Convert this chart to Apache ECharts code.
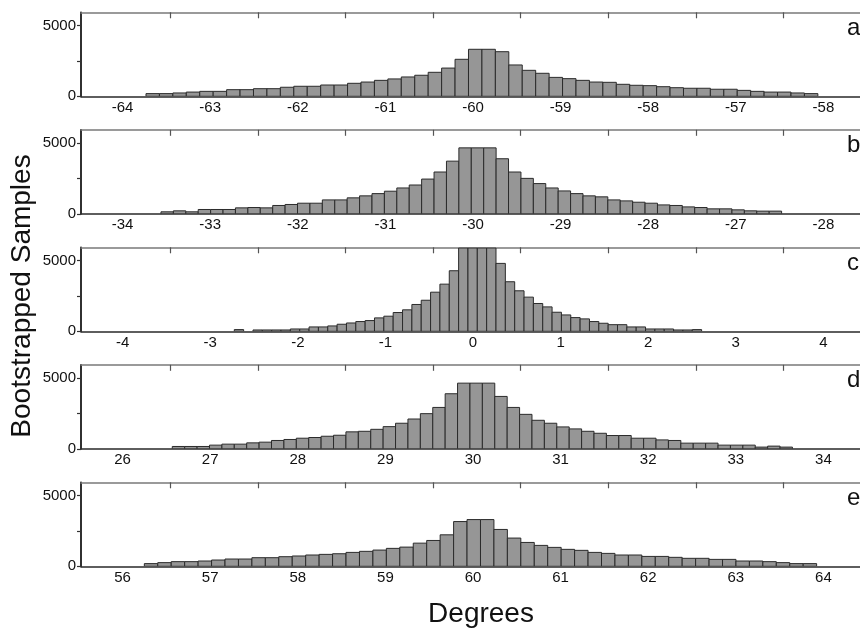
<!DOCTYPE html>
<html>
<head>
<meta charset="utf-8">
<script src="https://cdn.jsdelivr.net/npm/echarts@6/dist/echarts.min.js"></script>
<style>html,body{margin:0;padding:0;background:#fff;}#c{width:860px;height:629px;}</style>
</head>
<body>
<div id="c"></div>
<script>
// ---- data ----
const panelLetters = ['a', 'b', 'c', 'd', 'e'];
const centers = [-60, -30, 0, 30, 60];

const labelsA = ['-64', '-63', '-62', '-61', '-60', '-59', '-58', '-57', '-58'];
const labelsB = ['-34', '-33', '-32', '-31', '-30', '-29', '-28', '-27', '-28'];
const labelsC = ['-4', '-3', '-2', '-1', '0', '1', '2', '3', '4'];
const labelsD = ['26', '27', '28', '29', '30', '31', '32', '33', '34'];
const labelsE = ['56', '57', '58', '59', '60', '61', '62', '63', '64'];

const binStart = [-63.733, -33.562, -2.725, 26.567, 56.248];
const binWidth = [0.1534, 0.1417, 0.1067, 0.1416, 0.1535];

const countsA = [190,190,236,300,350,350,470,470,540,540,640,710,710,800,800,920,1010,1130,1230,1370,1490,1700,2000,2620,3330,3330,3160,2220,1840,1630,1340,1250,1130,1010,990,850,780,755,680,610,570,570,500,500,420,350,300,300,236,190];
const countsB = [140,210,140,305,305,305,420,445,420,590,660,750,750,985,985,1130,1270,1430,1600,1830,2040,2460,2960,3730,4670,4670,4670,3900,2960,2510,2140,1830,1620,1430,1270,1200,985,915,820,750,630,590,490,445,350,350,280,210,190,190];
const countsC = [120,0,95,95,95,95,165,165,310,310,380,500,590,690,760,950,1070,1330,1520,1900,2200,2770,3340,4290,5900,5900,5900,5900,4810,3510,2870,2420,1970,1730,1350,1160,970,880,690,570,470,470,310,310,165,165,165,95,95,120];
const countsD = [165,165,165,260,330,330,420,470,590,660,750,800,890,960,1200,1240,1380,1570,1810,2110,2490,2930,3900,4650,4650,4650,3710,2930,2440,2020,1810,1550,1410,1240,1100,940,940,750,750,630,590,400,400,400,260,260,260,120,190,120];
const countsE = [190,260,330,330,375,445,515,515,610,610,680,730,800,845,890,985,1060,1150,1270,1360,1640,1830,2230,3170,3310,3310,2610,2000,1690,1480,1340,1200,1130,985,915,800,800,700,700,635,565,565,490,490,375,375,330,260,190,190];

const yLabelValues = [0, 5000];
const yTickValues = [0, 2500, 5000];

// ---- build ----
const allLabels = [labelsA, labelsB, labelsC, labelsD, labelsE];
const allCounts = [countsA, countsB, countsC, countsD, countsE];
const FONT = 'Liberation Sans, Arial, Helvetica, sans-serif';

const grids = [], xAxes = [], yAxes = [], series = [], graphics = [];
for (let i = 0; i < 5; i++) {
  const c = centers[i];
  const top = 12.3 + 117.5 * i;
  grids.push({ left: 81, top: top, right: 0, height: 84 });
  const xmin = c - 4.475, xmax = c + 4.418;
  const labs = allLabels[i];
  // bottom axis: labels
  xAxes.push({
    type: 'value', gridIndex: i, position: 'bottom', min: xmin, max: xmax,
    axisLine: { show: true, onZero: false, lineStyle: { color: '#2a2a2a', width: 1.5 } },
    axisTick: { show: false },
    splitLine: { show: false },
    axisLabel: {
      show: true, margin: 4, color: '#111', fontSize: 15, fontFamily: FONT,
      customValues: labs.map((_, k) => c - 4 + k),
      formatter: (v) => labs[Math.round(v - c + 4)]
    }
  });
  // top axis: ticks only
  xAxes.push({
    type: 'value', gridIndex: i, position: 'top', min: xmin, max: xmax,
    axisLine: { show: true, onZero: false, lineStyle: { color: '#7a7a7a', width: 1.5 } },
    axisTick: { show: true, inside: true, length: 6, lineStyle: { color: '#555', width: 1.2 },
      customValues: [0,1,2,3,4,5,6,7].map(k => c - 3.457 + k) },
    axisLabel: { show: false },
    splitLine: { show: false }
  });
  yAxes.push({
    type: 'value', gridIndex: i, min: 0, max: 5950,
    axisLine: { show: true, onZero: false, lineStyle: { color: '#1a1a1a', width: 1.8 } },
    axisTick: { show: true, inside: false, length: 4, lineStyle: { color: '#333', width: 1.2 }, customValues: yTickValues },
    axisLabel: { show: true, margin: 5, color: '#111', fontSize: 15, fontFamily: FONT, customValues: yLabelValues,
      formatter: (v) => String(v) },
    splitLine: { show: false }
  });
  const w = binWidth[i];
  series.push({
    type: 'custom', xAxisIndex: 2 * i, yAxisIndex: i, clip: true,
    data: allCounts[i].map((v, k) => [binStart[i] + k * w, v]),
    renderItem: function (params, api) {
      const x0 = api.value(0), v = api.value(1);
      if (!v) return null;
      const p0 = api.coord([x0, v]);
      const p1 = api.coord([x0 + w, 0]);
      return {
        type: 'rect',
        shape: { x: p0[0], y: p0[1], width: p1[0] - p0[0], height: p1[1] - p0[1] },
        style: { fill: '#969696', stroke: '#2b2b2b', lineWidth: 1 }
      };
    }
  });
  graphics.push({
    type: 'text', left: 847, top: top + 4,
    style: { text: panelLetters[i], fontSize: 24, fontFamily: FONT, fill: '#111' }
  });
}
graphics.push({
  type: 'text', x: 481, y: 614,
  style: { text: 'Degrees', fontSize: 28, fontFamily: FONT, fill: '#111', align: 'center', verticalAlign: 'middle' }
});
graphics.push({
  type: 'text', x: 22, y: 296, rotation: Math.PI / 2,
  style: { text: 'Bootstrapped Samples', fontSize: 28, fontFamily: FONT, fill: '#111', align: 'center', verticalAlign: 'middle' }
});

const chart = echarts.init(document.getElementById('c'), null, { renderer: 'canvas' });
chart.setOption({
  animation: false,
  backgroundColor: '#fff',
  grid: grids,
  xAxis: xAxes,
  yAxis: yAxes,
  series: series,
  graphic: graphics
});
</script>
</body>
</html>
